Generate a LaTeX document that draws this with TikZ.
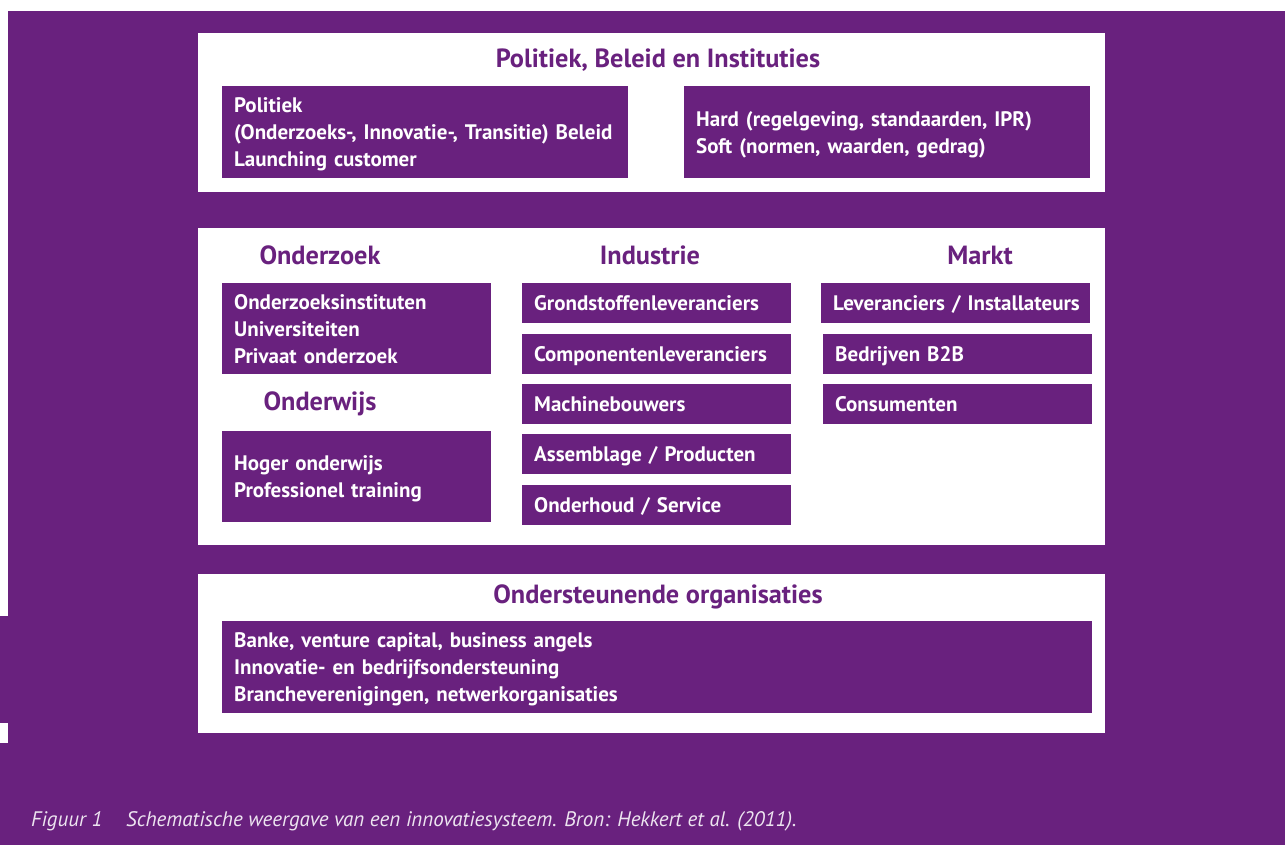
\documentclass[tikz,border=0pt]{standalone}
\usepackage{fontspec}
\setmainfont{PT Sans}
\usetikzlibrary{positioning}

\begin{document}
\begin{tikzpicture}[x=1pt,y=-1pt]
       \definecolor{darkpurple}{HTML}{69217E}
       \definecolor{lightpurple}{HTML}{EDE4F0}

       \newcommand{\boxsep}[0]{10pt}
       % lines sit 2pt below the middle of the box
       \newcommand{\blocktext}[1]{\raisebox{-2pt}[\height][\depth]{\begin{tabular}{@{}l@{}}#1\end{tabular}}}

       \tikzstyle{panel}   = [rectangle, fill = white, anchor = north west, inner sep = 0pt]
       \tikzstyle{block}   = [rectangle, fill = darkpurple, text = white, anchor = north west, align = left,
                              inner xsep = 12pt, inner ysep = 0pt, font = \fontsize{21}{27}\selectfont\bfseries]
       \tikzstyle{heading} = [text = darkpurple, anchor = base, inner sep = 0pt, font = \fontsize{26.3}{30}\selectfont\bfseries]
       \tikzstyle{caption} = [text = lightpurple, anchor = base west, inner sep = 0pt, font = \fontsize{21}{24}\selectfont\itshape]

       \useasboundingbox (0,0) rectangle (1285,845);
       \fill [darkpurple] (0,0) rectangle (1285,845);
       \fill [white] (0,0) rectangle (1285,11);
       \fill [white] (0,0) rectangle (8,616);
       \fill [white] (0,723) rectangle (8,743);

       % politiek, beleid en instituties
       \node [panel, minimum width = 907pt, minimum height = 159pt] (politiekpanel) at (198,33) {};
       \node [heading] (politiektitle) at (658,68) {Politiek, Beleid en Instituties};
       \node [block, text width = 382pt, minimum height = 92pt] (beleid) at (222,86) {
         \blocktext{
           Politiek\\
           (Onderzoeks-, Innovatie-, Transitie) Beleid\\
           Launching customer
         }
       };
       \node [block, text width = 382pt, minimum height = 92pt] (instituties) at (684,86) {
         \blocktext{
           Hard (regelgeving, standaarden, IPR)\\
           Soft (normen, waarden, gedrag)
         }
       };

       % onderzoek, onderwijs, industrie en markt
       \node [panel, minimum width = 907pt, minimum height = 317pt] (actorpanel) at (198,228) {};

       \node [heading] (onderzoektitle) at (320,264) {Onderzoek};
       \node [block, text width = 245pt, minimum height = 91pt] (onderzoek) at (222,283) {
         \blocktext{
           Onderzoeksinstituten\\
           Universiteiten\\
           Privaat onderzoek
         }
       };
       \node [heading] (onderwijstitle) at (320,410) {Onderwijs};
       \node [block, text width = 245pt, minimum height = 91pt] (onderwijs) at (222,431) {
         \blocktext{
           Hoger onderwijs\\
           Professionel training
         }
       };

       \node [heading] (industrietitle) at (650,264) {Industrie};
       \node [block, text width = 245pt, minimum height = 40pt] (grondstof) at (522,283) {\blocktext{Grondstoffenleveranciers}};
       \node [block, text width = 245pt, minimum height = 40pt, below = \boxsep of grondstof]  (componenten) {\blocktext{Componentenleveranciers}};
       \node [block, text width = 245pt, minimum height = 40pt, below = \boxsep of componenten] (machines)    {\blocktext{Machinebouwers}};
       \node [block, text width = 245pt, minimum height = 40pt, below = \boxsep of machines]    (assemblage)  {\blocktext{Assemblage / Producten}};
       \node [block, text width = 245pt, minimum height = 40pt, below = \boxsep of assemblage]  (onderhoud)   {\blocktext{Onderhoud / Service}};

       \node [heading] (markttitle) at (980,264) {Markt};
       \node [block, text width = 245pt, minimum height = 40pt] (installateurs) at (821,283) {\blocktext{Leveranciers / Installateurs}};
       \node [block, text width = 245pt, minimum height = 40pt, below = \boxsep of installateurs, xshift = 2pt] (bedrijven) {\blocktext{Bedrijven B2B}};
       \node [block, text width = 245pt, minimum height = 40pt, below = \boxsep of bedrijven] (consumenten) {\blocktext{Consumenten}};

       % ondersteunende organisaties
       \node [panel, minimum width = 907pt, minimum height = 159pt] (steunpanel) at (198,574) {};
       \node [heading] (steuntitle) at (658,603) {Ondersteunende organisaties};
       \node [block, text width = 846pt, minimum height = 92pt] (steun) at (222,621) {
         \blocktext{
           Banke, venture capital, business angels\\
           Innovatie- en bedrijfsondersteuning\\
           Brancheverenigingen, netwerkorganisaties
         }
       };

       \node [caption] (figuurnr)  at (31,826) {Figuur 1};
       \node [caption] (bijschrift) at (126,826) {Schematische weergave van een innovatiesysteem. Bron: Hekkert et al. (2011).};
\end{tikzpicture}
\end{document}
